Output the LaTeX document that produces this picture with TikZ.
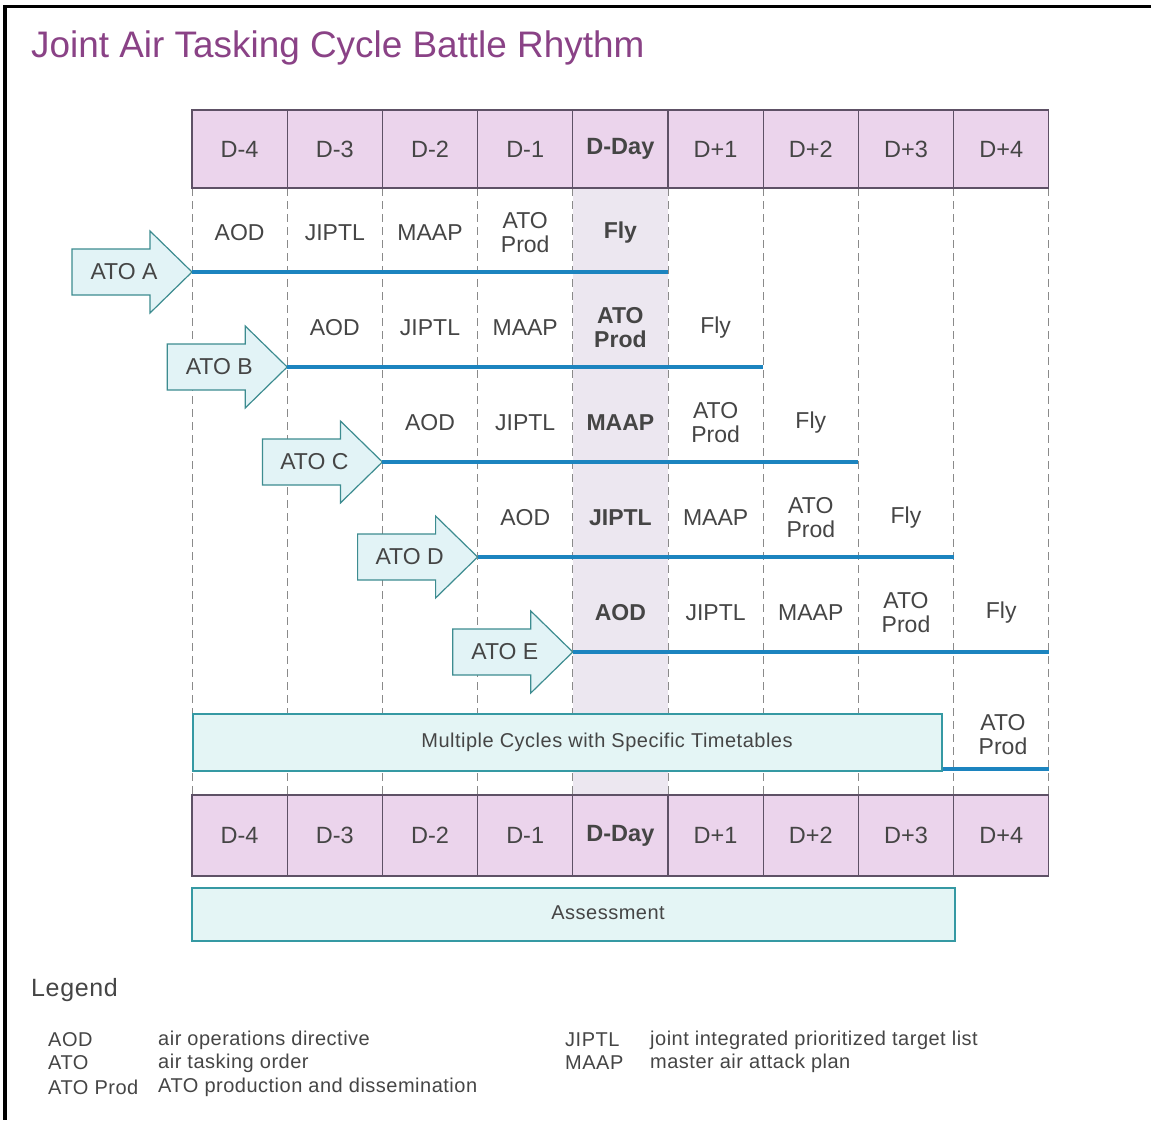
\documentclass[tikz,border=0pt]{standalone}
\usepackage{fontspec}
\setmainfont{Liberation Sans}
\newfontfamily\spacedfont[LetterSpace=2.5]{Liberation Sans}
\usetikzlibrary{calc}
\definecolor{hdrfill}{HTML}{EBD4EC}
\definecolor{hdrdraw}{HTML}{5E5166}
\definecolor{ddayfill}{HTML}{ECE7F0}
\definecolor{dashcol}{HTML}{8A8A8A}
\definecolor{arrowfill}{HTML}{E2F3F6}
\definecolor{arrowdraw}{HTML}{3D8C90}
\definecolor{linecol}{HTML}{1C84BF}
\definecolor{boxfill}{HTML}{E4F5F5}
\definecolor{boxdraw}{HTML}{3599A3}
\definecolor{txtgray}{HTML}{454545}
\definecolor{titlecol}{HTML}{8A4286}
\newcommand\rowfont{}
\tikzset{
  hdr/.style={draw=hdrdraw, line width=1.2pt, fill=hdrfill, minimum width=95.2pt, minimum height=78pt, inner sep=0pt, text=txtgray, font=\fontsize{23.5}{25}\selectfont},
  dashline/.style={draw=dashcol, line width=1pt, dash pattern=on 8pt off 5pt},
  atoarrow/.style={draw=arrowdraw, line width=1.2pt, fill=arrowfill},
  atolab/.style={text=txtgray, font=\fontsize{23}{25}\selectfont, inner sep=0pt},
  cycleline/.style={draw=linecol, line width=3.8pt},
  rowlab/.style={text=txtgray, align=center, inner sep=0pt, font=\fontsize{23}{24}\selectfont\rowfont},
  bandbox/.style={draw=boxdraw, line width=1.5pt, fill=boxfill, inner sep=0pt},
  bandtxt/.style={inner sep=0pt, text=txtgray, font=\spacedfont\fontsize{20}{22}\selectfont},
  legtxt/.style={anchor=west, inner sep=0pt, text=txtgray, font=\spacedfont\fontsize{20}{22}\selectfont},
}
\begin{document}
\begin{tikzpicture}[x=1pt, y=-1pt]
\useasboundingbox (0,0) rectangle (1151,1120);
\fill[white] (0,0) rectangle (1151,1120);
% frame
\draw[black, line width=3pt] (3,6) -- (1151,6);
\draw[black, line width=4pt] (5,5) -- (5,1120);
% title
\node[anchor=west, inner sep=0pt, text=titlecol, font=\fontsize{36.9}{40}\selectfont] (title) at (31,48) {Joint Air Tasking Cycle Battle Rhythm};
% D-Day column shade
\fill[ddayfill] (573,188) rectangle (668,795);
% dashed column lines
\foreach \i in {0,...,9} {
  \draw[dashline] (192+95.2*\i, 188) -- (192+95.2*\i, 795);
}
% header rows
\foreach \lab [count=\i from 0] in {D-4,D-3,D-2,D-1,\textbf{D-Day},D+1,D+2,D+3,D+4} {
  \node[hdr] (h\i) at (192+95.2*\i+47.6, 149) {\lab};
  \node[hdr, minimum height=81pt] (b\i) at (192+95.2*\i+47.6, 835.5) {\lab};
}
% ATO rows
\foreach \r/\name in {0/A,1/B,2/C,3/D,4/E} {
  \pgfmathsetmacro\tx{192+95.2*\r}
  \pgfmathsetmacro\ty{272+95*\r}
  \draw[atoarrow] (\tx-120,\ty-23) -- (\tx-42,\ty-23) -- (\tx-42,\ty-41) -- (\tx,\ty) -- (\tx-42,\ty+41) -- (\tx-42,\ty+23) -- (\tx-120,\ty+23) -- cycle;
  \node[atolab] (ato\name) at (\tx-68,\ty) {ATO \name};
  \coordinate (tip\name) at (\tx,\ty);
  \coordinate (end\name) at (\tx+476,\ty);
  \draw[cycleline] (tip\name) -- (end\name);
  \foreach \lab [count=\k from 0] in {AOD,JIPTL,MAAP,{ATO\\Prod},Fly} {
    \pgfmathtruncatemacro\c{\r+\k}
    \ifnum\c=4 \renewcommand\rowfont{\bfseries}\else\renewcommand\rowfont{}\fi
    \node[rowlab] (l\name\k) at (192+95.2*\c+47.6, 233+95*\r) {\lab};
  }
}
% multiple cycles
\node[bandbox, minimum width=749pt, minimum height=57pt] (multi) at (567.5,742.5) {};
\node[bandtxt] (multitxt) at (607,742) {Multiple Cycles with Specific Timetables};
\node[rowlab] (atoprodF) at (1003,735) {ATO\\Prod};
\coordinate (endF) at ($(multi.south east -| h8.east)+(0,-3)$);
\draw[cycleline] ($(multi.south east)+(0,-3)$) -- (endF);
% assessment
\node[bandbox, minimum width=763pt, minimum height=53pt] (assess) at (573.5,914.5) {};
\node[bandtxt] (assesstxt) at (608,913) {Assessment};
% legend
\node[anchor=west, inner sep=0pt, text=txtgray, font=\spacedfont\fontsize{25}{27}\selectfont] (legend) at (31,990) {Legend};
\node[legtxt] (k1) at (48,1040) {AOD};
\node[legtxt] (v1) at (158,1040) {air operations directive};
\node[legtxt] (k2) at (48,1063) {ATO};
\node[legtxt] (v2) at (158,1063) {air tasking order};
\node[legtxt] (k3) at (48,1087) {ATO Prod};
\node[legtxt] (v3) at (158,1087) {ATO production and dissemination};
\node[legtxt] (k4) at (565,1040) {JIPTL};
\node[legtxt] (v4) at (650,1040) {joint integrated prioritized target list};
\node[legtxt] (k5) at (565,1063) {MAAP};
\node[legtxt] (v5) at (650,1063) {master air attack plan};
\end{tikzpicture}
\end{document}
